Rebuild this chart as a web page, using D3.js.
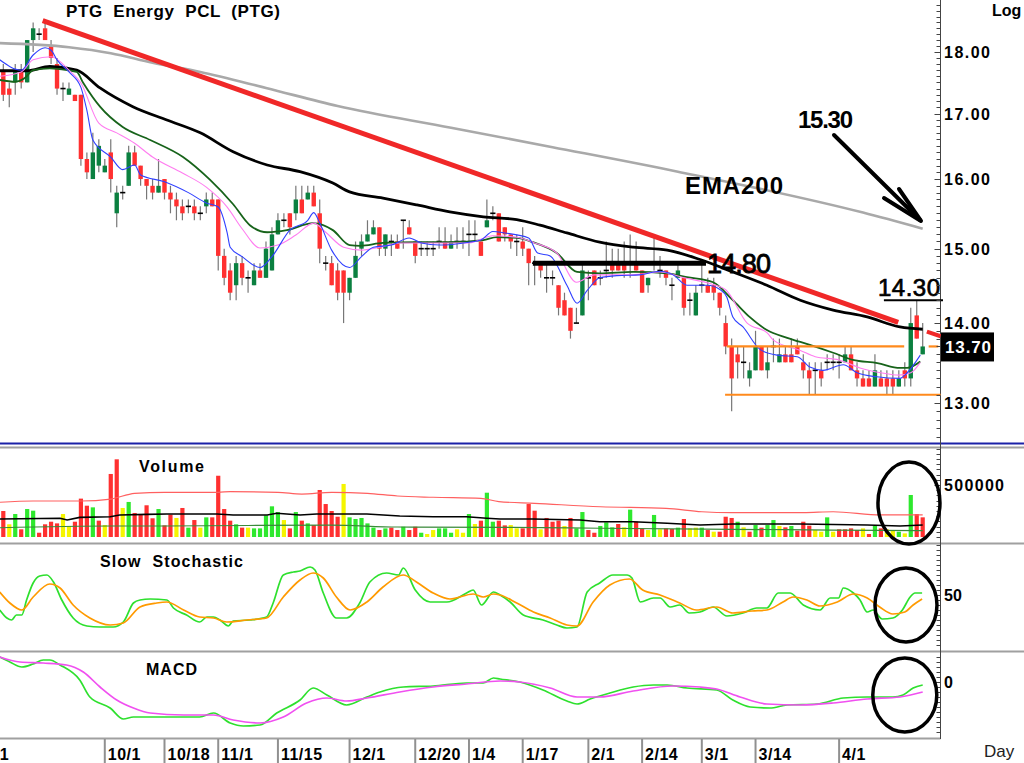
<!DOCTYPE html>
<html><head><meta charset="utf-8">
<script src="https://cdn.jsdelivr.net/npm/d3@7"></script>
<style>
body{margin:0;background:#fff;overflow:hidden}
svg{display:block}
text{font-family:"Liberation Sans",Arial,Helvetica,sans-serif;white-space:pre}
</style></head>
<body><svg id="c" width="1024" height="763"></svg>
<script>
// ---------------- DATA ----------------
const title = "PTG  Energy  PCL  (PTG)";
const opens = [17.7,17.4,17.5,17.7,17.5,18.2,18.3,18.4,18.1,17.8,
17.4,17.3,17.3,17.3,16.3,16.0,16.2,16.1,16.4,15.5,
15.8,15.9,16.4,16.2,16.0,15.9,15.8,16.0,15.8,15.7,
15.6,15.6,15.6,15.5,15.6,15.7,15.7,14.9,14.7,14.5,
14.8,14.6,14.5,14.7,14.6,14.7,15.2,15.4,15.5,15.5,
15.7,15.7,15.8,15.5,14.8,14.8,14.7,14.7,14.4,14.6,
15.0,15.1,15.2,15.3,15.0,15.1,15.1,15.4,15.3,15.1,
15.0,15.0,15.0,15.1,15.1,15.0,15.1,15.1,15.2,15.2,
15.1,15.3,15.5,15.5,15.3,15.2,15.1,15.1,15.0,14.8,
14.8,14.6,14.6,14.5,14.3,14.2,14.0,14.1,14.6,14.7,
14.6,14.7,14.8,14.8,14.8,14.8,14.8,14.7,14.5,14.8,
14.7,14.7,14.5,14.6,14.6,14.3,14.1,14.5,14.5,14.5,
14.4,14.0,13.7,13.6,13.5,13.3,13.4,13.7,13.4,13.7,
13.5,13.6,13.6,13.7,13.5,13.4,13.4,13.4,13.5,13.5,
13.5,13.5,13.6,13.4,13.3,13.3,13.2,13.3,13.3,13.3,
13.2,13.4,13.3,14.1,13.6];
const highs = [17.8,17.5,17.8,17.8,18.2,18.5,18.4,18.5,18.2,17.9,
17.5,17.5,17.3,17.3,16.4,16.7,16.6,16.3,16.6,15.9,
15.9,16.5,16.5,16.2,16.0,16.0,16.3,16.0,15.9,15.8,
15.7,15.7,15.7,15.6,15.8,15.8,15.7,15.0,14.8,14.9,
14.9,14.7,14.8,14.8,15.1,15.3,15.5,15.5,15.5,15.9,
15.9,15.9,15.9,15.7,14.9,14.9,14.8,14.7,14.6,15.1,
15.2,15.4,15.4,15.3,15.2,15.2,15.2,15.4,15.4,15.1,
15.1,15.1,15.1,15.3,15.3,15.2,15.3,15.3,15.4,15.4,
15.1,15.7,15.6,15.5,15.3,15.2,15.2,15.3,15.0,14.9,
14.8,14.8,14.7,14.5,14.4,14.2,14.2,14.8,14.7,14.7,
14.7,15.1,15.0,15.0,15.1,15.2,15.1,14.7,14.6,15.2,
14.9,14.7,14.6,14.8,14.6,14.4,14.5,14.8,14.6,14.6,
14.4,14.1,13.8,13.7,13.7,13.5,13.9,13.7,13.7,13.8,
13.8,13.7,13.8,13.8,13.6,13.5,13.5,13.5,13.6,13.6,
13.6,13.7,13.7,13.5,13.4,13.4,13.6,13.4,13.4,13.4,
13.4,13.5,14.2,14.3,14.0];
const lows = [17.2,17.1,17.3,17.4,17.5,18.0,18.2,18.2,17.8,17.3,
17.2,17.3,17.2,16.2,16.0,16.0,16.1,16.1,15.8,15.3,
15.7,15.9,16.2,15.9,15.7,15.7,15.8,15.7,15.5,15.4,
15.4,15.5,15.4,15.4,15.5,15.6,14.7,14.5,14.3,14.3,
14.5,14.4,14.5,14.6,14.6,14.7,15.2,15.3,15.2,15.4,
15.5,15.7,15.6,14.8,14.7,14.5,14.3,14.0,14.3,14.6,
14.9,15.1,15.2,14.9,14.9,14.9,15.0,15.0,15.2,14.8,
14.9,14.9,14.9,15.0,15.0,15.0,15.0,15.0,14.9,15.1,
14.9,15.3,15.4,15.1,15.1,15.0,14.9,14.9,14.5,14.5,
14.6,14.4,14.5,14.1,14.1,13.8,14.0,14.1,14.3,14.5,
14.5,14.6,14.6,14.7,14.6,14.6,14.7,14.4,14.4,14.7,
14.6,14.5,14.3,14.6,14.1,14.1,14.1,14.4,14.4,14.3,
14.1,13.6,12.9,13.3,13.3,13.2,13.4,13.4,13.3,13.5,
13.5,13.5,13.5,13.6,13.3,13.1,13.1,13.2,13.4,13.4,
13.3,13.5,13.4,13.2,13.2,13.2,13.2,13.2,13.1,13.1,
13.2,13.2,13.2,13.8,13.6];
const closes = [17.3,17.3,17.7,17.5,18.2,18.4,18.3,18.2,17.9,17.4,
17.4,17.4,17.2,16.3,16.1,16.4,16.5,16.2,16.0,15.8,
15.8,16.4,16.2,16.0,15.9,15.8,15.9,15.8,15.7,15.6,
15.5,15.6,15.5,15.5,15.7,15.6,14.9,14.6,14.4,14.8,
14.6,14.6,14.7,14.6,15.0,15.2,15.4,15.4,15.3,15.7,
15.5,15.8,15.6,15.0,14.8,14.5,14.4,14.4,14.6,14.9,
15.1,15.2,15.3,15.0,15.2,15.1,15.0,15.4,15.2,14.9,
15.0,15.0,15.0,15.1,15.0,15.1,15.1,15.1,15.2,15.2,
14.9,15.4,15.5,15.1,15.2,15.1,15.1,15.0,14.8,14.8,
14.7,14.6,14.6,14.2,14.1,13.9,14.0,14.7,14.6,14.5,
14.6,14.7,14.7,14.7,14.7,14.8,14.7,14.4,14.6,14.8,
14.7,14.6,14.5,14.7,14.2,14.3,14.4,14.5,14.4,14.4,
14.2,13.7,13.3,13.5,13.5,13.4,13.7,13.4,13.5,13.7,
13.6,13.5,13.5,13.6,13.4,13.3,13.4,13.3,13.5,13.5,
13.5,13.6,13.4,13.3,13.2,13.2,13.4,13.2,13.2,13.2,
13.3,13.3,14.0,13.8,13.7];
// volume in thousands of shares
const volumes = [250,122,221,74,269,253,41,122,147,131,
221,106,147,369,301,285,157,115,606,747,
279,337,231,221,305,180,269,112,215,183,
279,90,163,90,189,189,589,269,157,122,
90,90,83,83,208,295,240,163,83,240,
157,131,115,452,317,250,195,510,189,173,
183,131,90,67,83,90,67,99,67,99,
41,29,67,83,83,41,74,41,221,125,
157,426,147,157,112,115,83,83,317,253,
74,183,147,157,106,183,83,240,67,41,
106,141,93,125,93,263,147,83,67,212,
74,83,77,90,173,83,90,90,67,51,
51,195,183,147,93,51,115,90,115,163,
106,93,106,61,147,109,67,51,189,51,
74,74,83,67,83,29,109,83,74,67,
51,35,404,221,189];
// day's change shown by the volume bar: u = up, d = down, n = unchanged
const volDir = "dnuduudddd" + "nndddudndd" + "nudddduddn" + "dudnuddddu" +
               "dnuuuuundu" + "dudddddnuu" + "uuududdudd" + "unnuuunnun" +
               "duud" + "dnndddnddd" + "nduudduuud" + "nuddnunddu" +
               "dnnudndddu" + "nduduundud" + "ddnnundddd" + "ndudnnunud" + "d";
// moving averages: [bar index, price]
const ema200 = [[-1,18.15],[11,18.08],[18,17.98],[25,17.82],[33,17.67],[44,17.41],[56,17.12],[75,16.78],[92,16.48],[113,16.11],[144,15.51],[154,15.28]];
const emaLong = [[-0.6,17.69],[4,17.69],[7.8,17.76],[12.3,17.70],[16.2,17.41],[21.7,17.11],[27.4,16.90],[33,16.70],[38.5,16.41],[44.2,16.21],[49.7,16.11],[55.2,15.94],[58,15.81],[63.6,15.72],[69.3,15.62],[74.8,15.52],[80.4,15.45],[86,15.41],[89.9,15.33],[94.4,15.22],[99.9,15.09],[105.5,15.02],[111.2,14.98],[116.7,14.85],[122.2,14.68],[127.9,14.50],[133.5,14.30],[139,14.17],[144.7,14.08],[150.2,13.95],[154,13.92]];
const emaMid = [[-0.6,17.54],[2,17.51],[3.6,17.57],[5,17.70],[7.8,17.73],[10.7,17.70],[12.3,17.67],[13.4,17.49],[16.2,17.11],[20,16.79],[24.6,16.59],[30.1,16.33],[34.6,15.99],[38.5,15.63],[41.3,15.33],[44.2,15.23],[47.5,15.26],[51.9,15.36],[55.2,15.26],[58,15.05],[59.8,15.04],[63.6,15.08],[69.3,15.09],[74.8,15.09],[80.4,15.12],[82.7,15.16],[86,15.15],[88.7,15.09],[92.7,14.94],[96.1,14.68],[99.9,14.66],[105.5,14.68],[111.2,14.66],[114.5,14.61],[118.9,14.54],[122.2,14.30],[125,14.08],[127.9,13.91],[131.3,13.81],[135.1,13.72],[139,13.62],[142.3,13.53],[146.4,13.49],[150.2,13.43],[151.4,13.43],[153.6,13.51]];
const emaShort = [[-0.6,17.87],[3,17.70],[5,17.95],[7,18.07],[8,18.03],[9,17.87],[11,17.67],[13,17.42],[14,17.05],[15,16.59],[18,16.33],[20,16.14],[22,16.21],[23,16.06],[27,15.96],[31,15.80],[34,15.65],[36,15.59],[37.5,15.22],[38,15.02],[40,14.89],[43,14.74],[45,14.89],[48,15.26],[51,15.40],[52,15.51],[53,15.36],[55,14.98],[58,14.74],[60,14.89],[62,15.02],[65,15.05],[68,15.15],[70,15.08],[73,15.05],[78,15.09],[80,15.12],[82,15.24],[84,15.22],[88,15.15],[89.5,14.94],[91.6,14.90],[94.4,14.50],[96.1,14.26],[97.8,14.43],[99.9,14.60],[102.8,14.63],[106.6,14.64],[110,14.69],[112.2,14.64],[114.5,14.50],[117.9,14.50],[120.1,14.44],[121.2,14.34],[122.2,14.08],[123.9,13.95],[126.8,13.66],[129.6,13.59],[133,13.57],[135.1,13.44],[137.3,13.40],[140.7,13.47],[143,13.37],[146.3,13.32],[150.2,13.30],[151.4,13.37],[153.6,13.59]];
const emaFast2 = [[-0.6,17.60],[3,17.67],[5,17.87],[8,17.92],[11,17.70],[13,17.49],[16,16.85],[19,16.70],[22,16.54],[25,16.33],[30,16.09],[34,15.88],[37.5,15.59],[40,15.28],[43,15.01],[46,15.05],[49,15.19],[52,15.36],[54,15.23],[57,15.02],[60,14.98],[63,15.02],[66.5,15.08],[72,15.08],[78,15.08],[82,15.18],[86,15.16],[89,15.08],[92.7,14.94],[96,14.54],[99,14.64],[105.5,14.64],[110,14.68],[114,14.60],[118,14.53],[121,14.44],[124.6,14.00],[128,13.87],[129,13.78],[133.5,13.65],[136,13.57],[140,13.53],[143.5,13.43],[147,13.37],[150,13.34],[152,13.37],[153.6,13.50]];
// volume overlays (thousands)
const volMaRed = [[-0.6,334],[5,346],[13,346],[18,365],[22,420],[27,430],[36,430],[38,436],[46,430],[50,413],[55,430],[61,420],[66,394],[72,382],[80,372],[83,340],[89,324],[100,291],[111,276],[117,243],[122,234],[134,234],[139,243],[147,212],[154,212]];
const volMaBlack = [[-0.6,173],[9.5,180],[10.7,163],[12.8,189],[17.9,195],[19.5,212],[24,218],[27.4,221],[35.8,221],[38.5,212],[44.2,212],[45.8,228],[49.7,212],[52.5,221],[60.9,221],[66.4,202],[72,195],[77.6,195],[81,180],[83.2,173],[88.7,173],[96.6,163],[99.9,147],[105.5,147],[111.2,132],[116.7,115],[122.2,125],[133.5,125],[144.7,115],[150.2,106],[154,115]];
const volMaGreen = [[-0.6,89],[18,106],[27,106],[55,115],[66,96],[85,93],[100,84],[122,74],[139,67],[154,61]];
// slow stochastic
const stochK = [[-0.6,35],[0.6,27],[1.4,25],[2.2,30],[3.1,30],[3.9,45],[5,62],[6.1,69],[7.3,70],[8.4,63],[9.8,45],[11.7,27],[14,19],[16.2,18],[18.4,18],[20.1,23],[21.8,42],[22.9,45],[24.6,46],[27.4,45],[28.5,37],[30.7,30],[32.9,23],[34.1,28],[35.2,28],[36.3,25],[37.7,19],[38.5,24],[41.3,25],[44.1,28],[45.2,42],[46.9,70],[48.6,73],[49.7,74],[51.4,78],[52.2,75],[53.6,52],[55.8,27],[57.5,27],[59.7,42],[61.4,63],[64.2,72],[66.2,70],[67,77],[69,55],[71.5,43],[74.3,43],[77.6,52],[78.7,55],[80.1,40],[82.1,53],[83.2,50],[84.9,43],[87.1,30],[90.4,25],[92.7,20],[94.4,17],[96.1,18],[97.8,53],[99.9,62],[102.1,70],[104.5,70],[105.3,67],[106.7,43],[108.9,47],[110,47],[111.7,38],[113.3,40],[114.9,32],[116.7,33],[118.9,38],[121.2,29],[123.9,32],[126.2,37],[127.9,37],[129.8,52],[131.8,52],[134,40],[136.8,35],[138.5,47],[139.9,47],[140.7,57],[142.4,52],[143.5,45],[144.7,33],[145.7,35],[147.2,26],[149,27],[150.6,35],[151.9,48],[152.7,52],[153.9,52]];
const stochD = [[-0.6,53],[1.1,42],[3.1,35],[5,48],[7.8,61],[9.5,57],[11.7,40],[14.5,27],[17.9,20],[20.1,22],[22.9,38],[25.7,42],[27.4,43],[30.2,35],[32.9,28],[35.2,27],[37.4,23],[40.8,25],[44.1,27],[46.9,48],[49.7,65],[51.9,72],[53.6,67],[55.8,48],[58.1,35],[60.9,43],[63.6,58],[67,70],[69.2,63],[72,52],[74.8,46],[78.7,51],[80.4,48],[82.1,51],[83.2,50],[86,42],[88.8,33],[91.6,27],[94.4,20],[96.1,19],[98.8,43],[101.6,60],[104.9,66],[107.1,55],[110,50],[113.3,42],[116.1,35],[119.5,38],[122.2,32],[125.4,34],[127.9,35],[130.6,43],[132.3,48],[134.6,45],[136.8,39],[139.7,43],[142.4,51],[144.7,47],[146.8,38],[149,31],[151,33],[152.4,40],[153.9,46]];
// MACD
const macdLine = [[-0.6,0.25],[1.1,0.20],[3.1,0.15],[5,0.18],[6.7,0.22],[7.8,0.22],[9.5,0.17],[12.8,0.02],[14.5,-0.15],[17.9,-0.26],[20.1,-0.37],[21.8,-0.35],[27.4,-0.35],[32.9,-0.35],[35.2,-0.31],[38,-0.41],[40.2,-0.44],[43,-0.43],[45.8,-0.31],[49.7,-0.18],[51.9,-0.06],[54.2,-0.13],[57.5,-0.23],[60.9,-0.15],[63.1,-0.10],[67,-0.05],[72,-0.04],[77.6,-0.01],[80.4,-0.01],[82.1,0.04],[83.2,0.03],[86.5,0.0],[90.4,-0.08],[94.4,-0.19],[96.1,-0.22],[98.3,-0.17],[101.6,-0.11],[105.5,-0.05],[108.9,-0.03],[111.2,-0.03],[114.5,-0.06],[119.5,-0.08],[122.2,-0.18],[125.1,-0.25],[128.4,-0.26],[131.3,-0.23],[136.3,-0.22],[140.7,-0.16],[144.7,-0.15],[149,-0.15],[150.7,-0.13],[152.4,-0.06],[154,-0.03]];
const macdSignal = [[-0.6,0.25],[2.8,0.20],[6.7,0.19],[10.6,0.17],[13.4,0.10],[16.2,-0.05],[19,-0.18],[21.8,-0.26],[24.6,-0.31],[30.2,-0.33],[35.2,-0.33],[38.5,-0.38],[43,-0.41],[46.9,-0.35],[50.8,-0.21],[54.2,-0.16],[57.5,-0.19],[60.9,-0.16],[66.4,-0.10],[72,-0.05],[77.6,-0.02],[83.2,0.01],[86.5,0.0],[91.6,-0.06],[96.1,-0.15],[99.9,-0.15],[105.5,-0.09],[112.2,-0.04],[116.7,-0.05],[119.5,-0.07],[123.4,-0.15],[127.9,-0.22],[133.5,-0.23],[139,-0.21],[144.7,-0.17],[150.2,-0.15],[154,-0.10]];
// axis labels
const priceTicks = [13,14,15,16,17,18];
const volTicks = [500000];
const stochTicks = [50];
const macdTicks = [0];
const dateLabels = ["9/1","10/1","10/18","11/1","11/15","12/1","12/20","1/4","1/17","2/1","2/14","3/1","3/14","4/1"];
const dateIndex = [-3.5,17,27,36,46,58,69,78,87,98,107,117,126,140];
// annotations (bar index, price)
const trendLine = [[6.6,18.53],[149.9,14.01]];
const trendStub = [[154.7,13.89],[157,13.83]];
const resist = {from:88.7,to:117.7,price:14.8,label:"14.80"};
const highMark = {from:147.5,to:157.4,price:14.3,label:"14.30"};
const rangeTop = {from:121.2,to:150.9,price:13.7};
const rangeTopStub = {from:155,to:156.6,price:13.7};
const rangeBottom = {from:120.9,to:157,price:13.1};
const lastPrice = 13.70;

// ---------------- BUILD ----------------
const N = closes.length;
const svg = d3.select("#c");
const X = d3.scaleLinear().domain([0,N-1]).range([3.3,922.7]);
const YP = d3.scaleLog().domain([12.527,18.889]).range([443,0]);
const YV = d3.scaleLinear().domain([0,500]).range([537,485]);
const YS = d3.scaleLinear().domain([0,100]).range([645,545]);
const YM = d3.scaleLinear().domain([0,1]).range([682,582]);
const AX = 940.5;

svg.append("rect").attr("width",1024).attr("height",763).attr("fill","#fff");
const defs = svg.append("defs");
function clip(id,y,h){defs.append("clipPath").attr("id",id).append("rect").attr("x",0).attr("y",y).attr("width",940).attr("height",h);}
clip("cm",0,443); clip("cv",448,93); clip("cs",545,105); clip("cd",653,85);

// panel separators
svg.append("line").attr("x1",0).attr("x2",1024).attr("y1",443.5).attr("y2",443.5).attr("stroke","#1c22a8").attr("stroke-width",2);
[447.5,543.5,651.5].forEach(y=>svg.append("line").attr("x1",0).attr("x2",1024).attr("y1",y).attr("y2",y).attr("stroke","#a0a0a0").attr("stroke-width",2));
svg.append("line").attr("x1",0).attr("x2",AX).attr("y1",738.5).attr("y2",738.5).attr("stroke","#a0a0a0").attr("stroke-width",2);
svg.append("line").attr("x1",AX).attr("x2",AX).attr("y1",0).attr("y2",739).attr("stroke","#444").attr("stroke-width",1);

const lineP = d3.line().x(d=>X(d[0])).y(d=>YP(d[1])).curve(d3.curveMonotoneX);
const main = svg.append("g").attr("clip-path","url(#cm)");

// candles
const cg = main.append("g");
for(let i=0;i<N;i++){
  const o=opens[i],c=closes[i],h=highs[i],l=lows[i],x=X(i);
  cg.append("line").attr("x1",x).attr("x2",x).attr("y1",YP(h)).attr("y2",YP(l)).attr("stroke","#777").attr("stroke-width",1.2);
  if(Math.abs(o-c)<1e-9){
    cg.append("line").attr("x1",x-2.6).attr("x2",x+2.6).attr("y1",YP(o)).attr("y2",YP(o)).attr("stroke","#000").attr("stroke-width",1.6);
  } else {
    const t=YP(Math.max(o,c)), b=YP(Math.min(o,c));
    cg.append("rect").attr("x",x-2.2).attr("width",4.4).attr("y",t).attr("height",Math.max(1,b-t)).attr("fill",c>o?"#0b8040":"#ff3030");
  }
}
// MAs
main.append("path").attr("d",lineP(ema200)).attr("fill","none").attr("stroke","#a9a9a9").attr("stroke-width",2.6);
main.append("path").attr("d",lineP(emaLong)).attr("fill","none").attr("stroke","#000").attr("stroke-width",2.8);
main.append("path").attr("d",lineP(emaMid)).attr("fill","none").attr("stroke","#17631a").attr("stroke-width",1.8);
main.append("path").attr("d",lineP(emaFast2)).attr("fill","none").attr("stroke","#ff7df0").attr("stroke-width",1.1);
main.append("path").attr("d",lineP(emaShort)).attr("fill","none").attr("stroke","#3040ff").attr("stroke-width",1.1);

// annotations
const ann = svg.append("g");
const seg = (a,b,col,w)=>ann.append("line").attr("x1",X(a[0])).attr("y1",YP(a[1])).attr("x2",X(b[0])).attr("y2",YP(b[1])).attr("stroke",col).attr("stroke-width",w);
seg(trendLine[0],trendLine[1],"#f02828",5);
seg(trendStub[0],trendStub[1],"#f02828",4);
seg([rangeTop.from,rangeTop.price],[rangeTop.to,rangeTop.price],"#ff8a1c",2.2);
seg([rangeTopStub.from,rangeTopStub.price],[rangeTopStub.to,rangeTopStub.price],"#ff8a1c",2.2);
seg([rangeBottom.from,rangeBottom.price],[rangeBottom.to,rangeBottom.price],"#ff8a1c",2.2);
seg([resist.from,resist.price],[resist.to,resist.price],"#000",5);
seg([highMark.from,highMark.price],[highMark.to,highMark.price],"#000",2);
ann.append("text").attr("x",X(resist.to)+1).attr("y",YP(resist.price)+10).attr("font-size",27).attr("textLength",64)
  .attr("fill","#000").attr("stroke","#000").attr("stroke-width",0.8).text(resist.label);
ann.append("text").attr("x",878).attr("y",YP(highMark.price)-4).attr("font-size",24).attr("textLength",62)
  .attr("fill","#000").attr("stroke","#000").attr("stroke-width",0.7).text(highMark.label);
ann.append("text").attr("x",798).attr("y",128).attr("font-size",24).attr("font-weight","bold").attr("textLength",55).text("15.30");
ann.append("text").attr("x",685).attr("y",194).attr("font-size",24).attr("font-weight","bold").attr("textLength",98).text("EMA200");
// arrow
ann.append("line").attr("x1",834).attr("y1",135).attr("x2",920).attr("y2",220).attr("stroke","#000").attr("stroke-width",4).attr("stroke-linecap","round");
ann.append("polyline").attr("points","884,198 921,221 899,189").attr("fill","none").attr("stroke","#000").attr("stroke-width",4).attr("stroke-linecap","round").attr("stroke-linejoin","round");

// title
svg.append("text").attr("x",66).attr("y",17).attr("font-size",17).attr("font-weight","bold").attr("textLength",214).text(title);
svg.append("text").attr("x",992).attr("y",16).attr("font-size",16).attr("font-weight","bold").text("Log");

// price axis ticks
const tg = svg.append("g");
for(let k=126;k<=188;k++){
  const pr=k/10, y=Math.round(YP(pr))+0.5;
  const major = k%10===0;
  tg.append("line").attr("x1",AX-(major?6:4)).attr("x2",AX).attr("y1",y).attr("y2",y).attr("stroke","#444");
}
priceTicks.forEach(p=>{
  tg.append("text").attr("x",944).attr("y",YP(p)+6).attr("font-size",16).attr("font-weight","bold").attr("textLength",46).text(p.toFixed(2));
});
// current price box
tg.append("rect").attr("x",941).attr("y",YP(lastPrice)-14).attr("width",53).attr("height",29).attr("fill","#000");
tg.append("text").attr("x",945).attr("y",YP(lastPrice)+7).attr("font-size",17).attr("font-weight","bold").attr("fill","#fff").attr("textLength",46).text(lastPrice.toFixed(2));

// ---------------- VOLUME ----------------
const vg = svg.append("g").attr("clip-path","url(#cv)");
const vcol = {u:"#2ee82e",d:"#ff3030",n:"#f5f500"};
volumes.forEach((v,i)=>{
  const dch = volDir[i] || (i===0?"d":(closes[i]>closes[i-1]?"u":closes[i]<closes[i-1]?"d":"n"));
  vg.append("rect").attr("x",X(i)-2.1).attr("width",4.2).attr("y",YV(v)).attr("height",YV(0)-YV(v)).attr("fill",vcol[dch]||"#ff3030");
});
const lineV = d3.line().x(d=>X(d[0])).y(d=>YV(d[1])).curve(d3.curveMonotoneX);
vg.append("path").attr("d",lineV(volMaRed)).attr("fill","none").attr("stroke","#ff6060").attr("stroke-width",1.2);
vg.append("path").attr("d",lineV(volMaGreen)).attr("fill","none").attr("stroke","#3a8a3a").attr("stroke-width",1.2);
vg.append("path").attr("d",d3.line().x(d=>X(d[0])).y(d=>YV(d[1]))(volMaBlack)).attr("fill","none").attr("stroke","#000").attr("stroke-width",1.6);
svg.append("text").attr("x",139).attr("y",472).attr("font-size",16).attr("font-weight","bold").attr("textLength",65).text("Volume");
for(let v=0;v<=850;v+=50){
  const y=Math.round(YV(v))+0.5; if(y<449) continue;
  svg.append("line").attr("x1",AX-(v===500?6:4)).attr("x2",AX).attr("y1",y).attr("y2",y).attr("stroke","#444");
}
volTicks.forEach(v=>svg.append("text").attr("x",944).attr("y",YV(v/1000)+6).attr("font-size",16).attr("font-weight","bold").attr("textLength",60).text(String(v)));

// ---------------- STOCHASTIC ----------------
const sg = svg.append("g").attr("clip-path","url(#cs)");
const lineS = d3.line().x(d=>X(d[0])).y(d=>YS(d[1])).curve(d3.curveMonotoneX);
sg.append("path").attr("d",lineS(stochK)).attr("fill","none").attr("stroke","#2ee02e").attr("stroke-width",1.7);
sg.append("path").attr("d",lineS(stochD)).attr("fill","none").attr("stroke","#ff9a00").attr("stroke-width",1.7);
svg.append("text").attr("x",100).attr("y",567).attr("font-size",16).attr("font-weight","bold").attr("textLength",143).text("Slow  Stochastic");
for(let v=0;v<=100;v+=5){
  const y=Math.round(YS(v))+0.5;
  svg.append("line").attr("x1",AX-(v===50?6:4)).attr("x2",AX).attr("y1",y).attr("y2",y).attr("stroke","#444");
}
stochTicks.forEach(v=>svg.append("text").attr("x",944).attr("y",YS(v)+6).attr("font-size",16).attr("font-weight","bold").text(String(v)));

// ---------------- MACD ----------------
const mg = svg.append("g").attr("clip-path","url(#cd)");
const lineM = d3.line().x(d=>X(d[0])).y(d=>YM(d[1])).curve(d3.curveMonotoneX);
mg.append("path").attr("d",lineM(macdLine)).attr("fill","none").attr("stroke","#2ee02e").attr("stroke-width",1.7);
mg.append("path").attr("d",lineM(macdSignal)).attr("fill","none").attr("stroke","#f050f0").attr("stroke-width",1.7);
svg.append("text").attr("x",146).attr("y",675).attr("font-size",16).attr("font-weight","bold").attr("textLength",51).text("MACD");
for(let k=-11;k<=5;k++){
  const v=k*0.05, y=Math.round(YM(v))+0.5; if(y<655||y>737) continue;
  svg.append("line").attr("x1",AX-(k===0?6:4)).attr("x2",AX).attr("y1",y).attr("y2",y).attr("stroke","#444");
}
macdTicks.forEach(v=>svg.append("text").attr("x",944).attr("y",YM(v)+6).attr("font-size",16).attr("font-weight","bold").text(String(v)));

// ellipses
const el = (i,y,rx,ry)=>svg.append("ellipse").attr("cx",X(i)).attr("cy",y).attr("rx",rx).attr("ry",ry).attr("fill","none").attr("stroke","#000").attr("stroke-width",3.5);
el(151.7,YV(327),31,41);
el(151.2,YS(40),31,37);
el(151,YM(-0.13),32,37);

// ---------------- DATE AXIS ----------------
const dg = svg.append("g");
dateLabels.forEach((t,k)=>{
  const x=X(dateIndex[k]);
  dg.append("line").attr("x1",x).attr("x2",x).attr("y1",739).attr("y2",763).attr("stroke","#909090").attr("stroke-width",2);
  dg.append("text").attr("x",x+3).attr("y",760).attr("font-size",16).attr("font-weight","bold").attr("letter-spacing",0.5).text(t);
});
dg.append("text").attr("x",984).attr("y",757).attr("font-size",17).attr("fill","#222").text("Day");
</script></body></html>
